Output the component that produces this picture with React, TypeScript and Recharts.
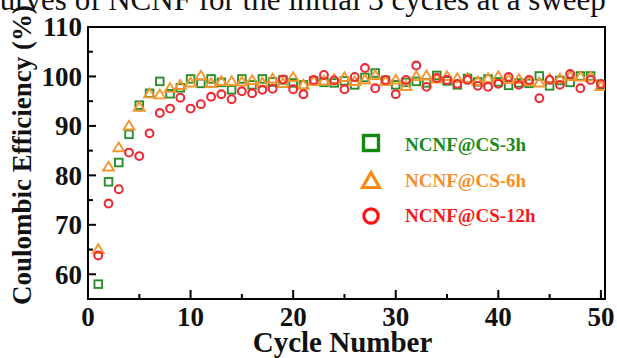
import React from 'react';
import { ScatterChart, Scatter, XAxis, YAxis, ReferenceArea } from 'recharts';

// Cycle index (x) shared by the three samples
const cycles = [
  1, 2, 3, 4, 5, 6, 7, 8, 9, 10,
  11, 12, 13, 14, 15, 16, 17, 18, 19, 20,
  21, 22, 23, 24, 25, 26, 27, 28, 29, 30,
  31, 32, 33, 34, 35, 36, 37, 38, 39, 40,
  41, 42, 43, 44, 45, 46, 47, 48, 49, 50,
];

// Coulombic efficiency (%) per cycle
const ce3h = [
  58.0, 78.7, 82.6, 88.3, 94.2, 96.6, 99.0, 96.5, 97.7, 99.5,
  98.6, 99.5, 98.8, 97.3, 99.5, 98.3, 99.5, 98.9, 99.3, 98.7,
  98.3, 99.1, 98.8, 98.7, 99.1, 98.3, 99.8, 100.7, 99.2, 98.3,
  98.8, 99.0, 98.7, 100.2, 99.1, 98.3, 99.6, 98.9, 99.5, 98.9,
  98.2, 98.7, 98.6, 100.1, 98.1, 99.2, 98.8, 100.1, 100.1, 98.4,
];
const ce6h = [
  65.0, 81.7, 85.6, 90.0, 93.8, 96.5, 96.3, 97.6, 98.2, 98.7,
  100.1, 98.6, 99.0, 99.0, 98.9, 99.2, 98.7, 99.5, 98.6, 99.8,
  98.3, 99.0, 99.1, 99.4, 99.8, 99.0, 99.3, 100.2, 99.0, 99.3,
  98.0, 100.0, 100.1, 99.5, 100.0, 99.6, 99.6, 99.0, 99.6, 100.0,
  99.4, 99.4, 99.0, 98.7, 99.5, 99.5, 100.0, 99.9, 99.9, 98.0,
];
const ce12h = [
  63.8, 74.3, 77.2, 84.6, 83.9, 88.5, 92.6, 93.5, 95.7, 93.5,
  94.4, 95.9, 96.4, 95.4, 97.0, 96.6, 97.3, 97.5, 99.4, 97.4,
  96.4, 99.3, 100.3, 99.2, 97.4, 99.9, 101.7, 97.6, 99.3, 96.4,
  99.3, 102.2, 97.9, 99.7, 99.3, 98.5, 99.3, 98.1, 97.9, 98.5,
  99.9, 98.3, 99.3, 95.6, 99.3, 98.3, 100.5, 97.6, 99.3, 98.5,
];

const seriesNames = ['NCNF@CS-3h', 'NCNF@CS-6h', 'NCNF@CS-12h'];
const xTicks = [0, 5, 10, 15, 20, 25, 30, 35, 40, 45, 50];
const yTicks = [55, 60, 65, 70, 75, 80, 85, 90, 95, 100, 105, 110];

const GREEN = '#2a8f2a';
const ORANGE = '#f5962e';
const RED = '#ec2b35';
const FONT = '"Liberation Serif", "Times New Roman", serif';

const toPoints = (values: number[]) => cycles.map((c, i) => ({ x: c, y: values[i] }));
const data3h = toPoints(ce3h);
const data6h = toPoints(ce6h);
const data12h = toPoints(ce12h);

const Square = (p: any) => (
  <rect x={p.cx - 3.8} y={p.cy - 3.8} width={7.6} height={7.6} fill="none" stroke={GREEN} strokeWidth={1.9} />
);
const Triangle = (p: any) => (
  <path
    d={`M${p.cx},${p.cy - 5.2} L${p.cx + 5.4},${p.cy + 3.6} L${p.cx - 5.4},${p.cy + 3.6} Z`}
    fill="none"
    stroke={ORANGE}
    strokeWidth={1.9}
    strokeLinejoin="miter"
  />
);
const Circle = (p: any) => (
  <circle cx={p.cx} cy={p.cy} r={3.9} fill="none" stroke={RED} strokeWidth={2.1} />
);

const YTick = (props: any) => {
  const { x, y, payload } = props;
  const v = payload.value as number;
  const major = v % 10 === 0;
  const ax = x + 6;
  return (
    <g>
      <line x1={ax} x2={ax + (major ? 8 : 5)} y1={y} y2={y} stroke="#000" strokeWidth={2} />
      {major && (
        <text x={x} y={y} dy="0.35em" textAnchor="end" fontFamily={FONT} fontWeight="bold" fontSize={27} fill="#111">
          {v}
        </text>
      )}
    </g>
  );
};

const XTick = (props: any) => {
  const { x, y, payload } = props;
  const v = payload.value as number;
  const major = v % 10 === 0;
  const ay = y - 8;
  return (
    <g>
      <line x1={x} x2={x} y1={ay} y2={ay - (major ? 9 : 5)} stroke="#000" strokeWidth={2} />
      {major && (
        <text x={x} y={y} dy="0.71em" textAnchor="middle" fontFamily={FONT} fontWeight="bold" fontSize={27} fill="#111">
          {v}
        </text>
      )}
    </g>
  );
};

const XTitle = (props: any) => {
  const vb = props.viewBox || { x: 88, y: 299, width: 517, height: 59 };
  return (
    <text x={vb.x + vb.width / 2 - 4} y={352} textAnchor="middle" fontFamily={FONT} fontWeight="bold" fontSize={29} fill="#111">
      Cycle Number
    </text>
  );
};

const YTitle = () => (
  <text
    x={22}
    y={155}
    transform="rotate(-90 22 155)"
    textAnchor="middle"
    dominantBaseline="central"
    fontFamily={FONT}
    fontWeight="bold"
    fontSize={27}
    fill="#111"
  >
    Coulombic Efficiency (%)
  </text>
);

export default function App() {
  return (
    <div style={{ position: 'fixed', left: 0, top: 0, width: 617, height: 358, overflow: 'hidden', background: '#fff' }}>
      <div
        style={{
          position: 'absolute',
          left: -14,
          top: -15,
          whiteSpace: 'nowrap',
          fontFamily: FONT,
          fontSize: 31,
          lineHeight: '30px',
          color: '#111',
        }}
      >
        curves of NCNF for the initial 3 cycles at a sweep
      </div>
      <ScatterChart width={617} height={358} margin={{ top: 27, right: 12, bottom: 0, left: 0 }}>
        <XAxis
          type="number"
          dataKey="x"
          domain={[0, 50.4]}
          ticks={xTicks}
          allowDataOverflow
          height={59}
          tickLine={false}
          tickSize={0}
          tickMargin={8}
          tick={<XTick />}
          axisLine={{ stroke: '#000', strokeWidth: 2 }}
          interval={0}
          label={<XTitle />}
        />
        <YAxis
          type="number"
          dataKey="y"
          domain={[55, 110]}
          ticks={yTicks}
          allowDataOverflow
          width={88}
          tickLine={false}
          tickSize={0}
          tickMargin={6}
          tick={<YTick />}
          axisLine={{ stroke: '#000', strokeWidth: 2 }}
          interval={0}
          label={<YTitle />}
        />
        <ReferenceArea x1={0} x2={50.4} y1={55} y2={110} fill="none" stroke="#000" strokeWidth={2} ifOverflow="visible" />
        <Scatter name={seriesNames[0]} data={data3h} shape={Square} isAnimationActive={false} />
        <Scatter name={seriesNames[1]} data={data6h} shape={Triangle} isAnimationActive={false} />
        <Scatter name={seriesNames[2]} data={data12h} shape={Circle} isAnimationActive={false} />
      </ScatterChart>
      <svg width={617} height={358} style={{ position: 'absolute', left: 0, top: 0, pointerEvents: 'none' }}>
        <rect x={363.5} y={135.5} width={15} height={15} fill="none" stroke="#128a12" strokeWidth={3.4} />
        <path d="M371,172.5 L379.5,187.5 L362.5,187.5 Z" fill="none" stroke="#ff8a12" strokeWidth={3.2} />
        <circle cx={371} cy={216} r={7.2} fill="none" stroke="#ff1414" strokeWidth={3.2} />
        <text x={405} y={151} fontFamily={FONT} fontWeight="bold" fontSize={19} fill="#1a8a1a">{seriesNames[0]}</text>
        <text x={405} y={187} fontFamily={FONT} fontWeight="bold" fontSize={19} fill="#f7902a">{seriesNames[1]}</text>
        <text x={405} y={222} fontFamily={FONT} fontWeight="bold" fontSize={19} fill="#f51a1a">{seriesNames[2]}</text>
      </svg>
    </div>
  );
}
